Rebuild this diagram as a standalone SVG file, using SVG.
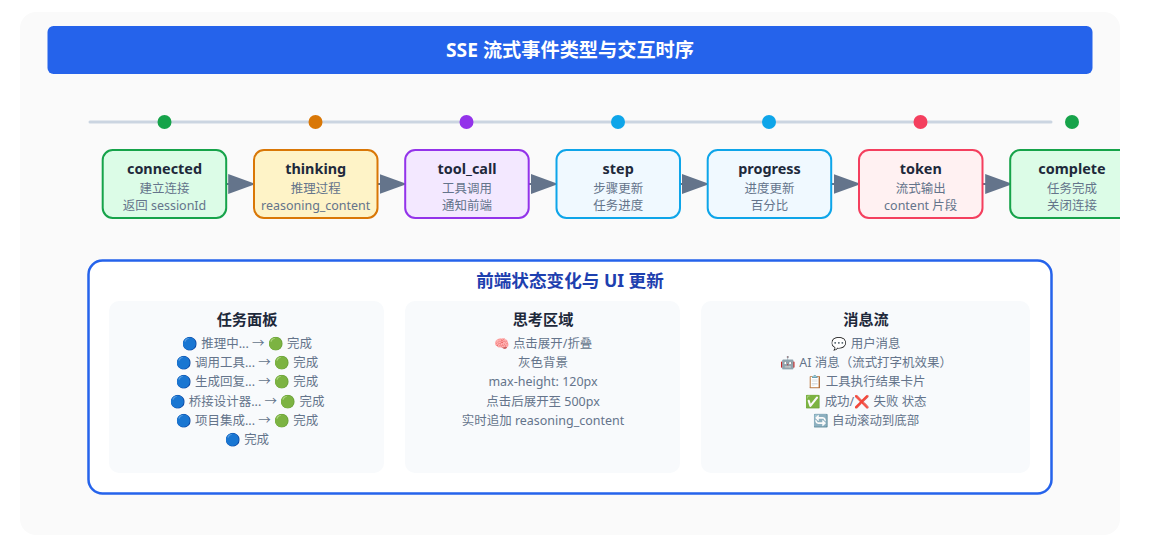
<svg xmlns="http://www.w3.org/2000/svg" width="1175" height="536" viewBox="0 0 1175 536">
<style>
text{font-family:"Noto Sans","Noto Sans CJK SC","OpenMoji","OpenMoji Color","Twemoji","Segoe UI Emoji",sans-serif;text-anchor:middle}
.t{font-size:14.400px;font-weight:700;fill:#1e293b}
.s{font-size:12.480px;fill:#64748b}
.h{font-size:15.200px;font-weight:700;fill:#1e293b}
.n{stroke-width:2}
.p{fill:#f8fafc}
.c{stroke:#64748b;stroke-width:2;fill:none}
</style>
<defs>
<marker id="a" markerUnits="userSpaceOnUse" markerWidth="28" markerHeight="20" refX="27.500" refY="10" orient="auto"><path d="M0 0L27.500 10L0 20z" fill="#64748b"/></marker>
<clipPath id="clip"><rect x="20" y="12" width="1100" height="523" rx="16"/></clipPath>
</defs>
<rect width="1175" height="536" fill="#fff"/>
<rect x="20" y="12" width="1100" height="523" rx="16" fill="#fafafa"/>
<g id="title"><rect x="47.500" y="26" width="1045" height="48" rx="6" fill="#2563eb"/><text x="570" y="57" fill="#fff" style="font-size:19.200px;font-weight:700">SSE 流式事件类型与交互时序</text></g>
<g id="timeline">
<line x1="90" y1="122" x2="1051" y2="122" stroke="#cbd5e1" stroke-width="3" stroke-linecap="round"/>
<circle cx="164.500" cy="122" r="7" fill="#16a34a"/><circle cx="315.500" cy="122" r="7" fill="#d97706"/><circle cx="466.500" cy="122" r="7" fill="#9333ea"/><circle cx="618" cy="122" r="7" fill="#0ea5e9"/><circle cx="769" cy="122" r="7" fill="#0ea5e9"/><circle cx="920.500" cy="122" r="7" fill="#f43f5e"/><circle cx="1072" cy="122" r="7" fill="#16a34a"/>
</g>
<g id="connectors">
<line class="c" x1="227" y1="184" x2="255.700" y2="184" marker-end="url(#a)"/>
<line class="c" x1="378" y1="184" x2="407" y2="184" marker-end="url(#a)"/>
<line class="c" x1="529" y1="184" x2="558.300" y2="184" marker-end="url(#a)"/>
<line class="c" x1="681" y1="184" x2="709.500" y2="184" marker-end="url(#a)"/>
<line class="c" x1="832" y1="184" x2="861" y2="184" marker-end="url(#a)"/>
<line class="c" x1="983" y1="184" x2="1012.700" y2="184" marker-end="url(#a)"/>
</g>
<g id="n-connected"><rect class="n" x="102.700" y="150" width="123.500" height="68" rx="10" fill="#dcfce7" stroke="#16a34a"/><text class="t" x="164.500" y="174">connected</text><text class="s" x="164.500" y="193">建立连接</text><text class="s" x="164.500" y="210">返回 sessionId</text></g>
<g id="n-thinking"><rect class="n" x="254" y="150" width="123.500" height="68" rx="10" fill="#fef3c7" stroke="#d97706"/><text class="t" x="315.700" y="174">thinking</text><text class="s" x="315.700" y="193">推理过程</text><text class="s" x="315.700" y="210">reasoning_content</text></g>
<g id="n-tool_call"><rect class="n" x="405.200" y="150" width="123.500" height="68" rx="10" fill="#f3e8ff" stroke="#9333ea"/><text class="t" x="467" y="174">tool_call</text><text class="s" x="467" y="193">工具调用</text><text class="s" x="467" y="210">通知前端</text></g>
<g id="n-step"><rect class="n" x="556.500" y="150" width="123.500" height="68" rx="10" fill="#f0f9ff" stroke="#0ea5e9"/><text class="t" x="618.200" y="174">step</text><text class="s" x="618.200" y="193">步骤更新</text><text class="s" x="618.200" y="210">任务进度</text></g>
<g id="n-progress"><rect class="n" x="707.700" y="150" width="123.500" height="68" rx="10" fill="#f0f9ff" stroke="#0ea5e9"/><text class="t" x="769.500" y="174">progress</text><text class="s" x="769.500" y="193">进度更新</text><text class="s" x="769.500" y="210">百分比</text></g>
<g id="n-token"><rect class="n" x="859" y="150" width="123.500" height="68" rx="10" fill="#fff1f2" stroke="#f43f5e"/><text class="t" x="920.700" y="174">token</text><text class="s" x="920.700" y="193">流式输出</text><text class="s" x="920.700" y="210">content 片段</text></g>
<g id="n-complete" clip-path="url(#clip)"><rect class="n" x="1010.200" y="150" width="123.500" height="68" rx="10" fill="#dcfce7" stroke="#16a34a"/><text class="t" x="1072" y="174">complete</text><text class="s" x="1072" y="193">任务完成</text><text class="s" x="1072" y="210">关闭连接</text></g>
<g id="frontend"><rect x="88.500" y="260.500" width="963" height="233" rx="14" fill="#fff" stroke="#2563eb" stroke-width="2.500"/><text x="570" y="287" style="font-size:17.600px;font-weight:700;fill:#1e40af">前端状态变化与 UI 更新</text></g>
<g id="panel-tasks"><rect class="p" x="109" y="301" width="275" height="172" rx="10"/><text class="h" x="247" y="325">任务面板</text>
<text class="s" x="247" y="348">🔵 推理中... → 🟢 完成</text><text class="s" x="247" y="367">🔵 调用工具... → 🟢 完成</text><text class="s" x="247" y="386">🔵 生成回复... → 🟢 完成</text><text class="s" x="247" y="406">🔵 桥接设计器... → 🟢 完成</text><text class="s" x="247" y="425">🔵 项目集成... → 🟢 完成</text><text class="s" x="247" y="444">🔵 完成</text></g>
<g id="panel-thinking"><rect class="p" x="405" y="301" width="275" height="172" rx="10"/><text class="h" x="543" y="325">思考区域</text>
<text class="s" x="543" y="348">🧠 点击展开/折叠</text><text class="s" x="543" y="367">灰色背景</text><text class="s" x="543" y="386">max-height: 120px</text><text class="s" x="543" y="406">点击后展开至 500px</text><text class="s" x="543" y="425">实时追加 reasoning_content</text></g>
<g id="panel-messages"><rect class="p" x="701" y="301" width="329" height="172" rx="10"/><text class="h" x="866" y="325">消息流</text>
<text class="s" x="866" y="348">💬 用户消息</text><text class="s" x="866" y="367">🤖 AI 消息（流式打字机效果）</text><text class="s" x="866" y="386">📋 工具执行结果卡片</text><text class="s" x="866" y="406">✅ 成功/❌ 失败 状态</text><text class="s" x="866" y="425">🔄 自动滚动到底部</text></g>
</svg>
